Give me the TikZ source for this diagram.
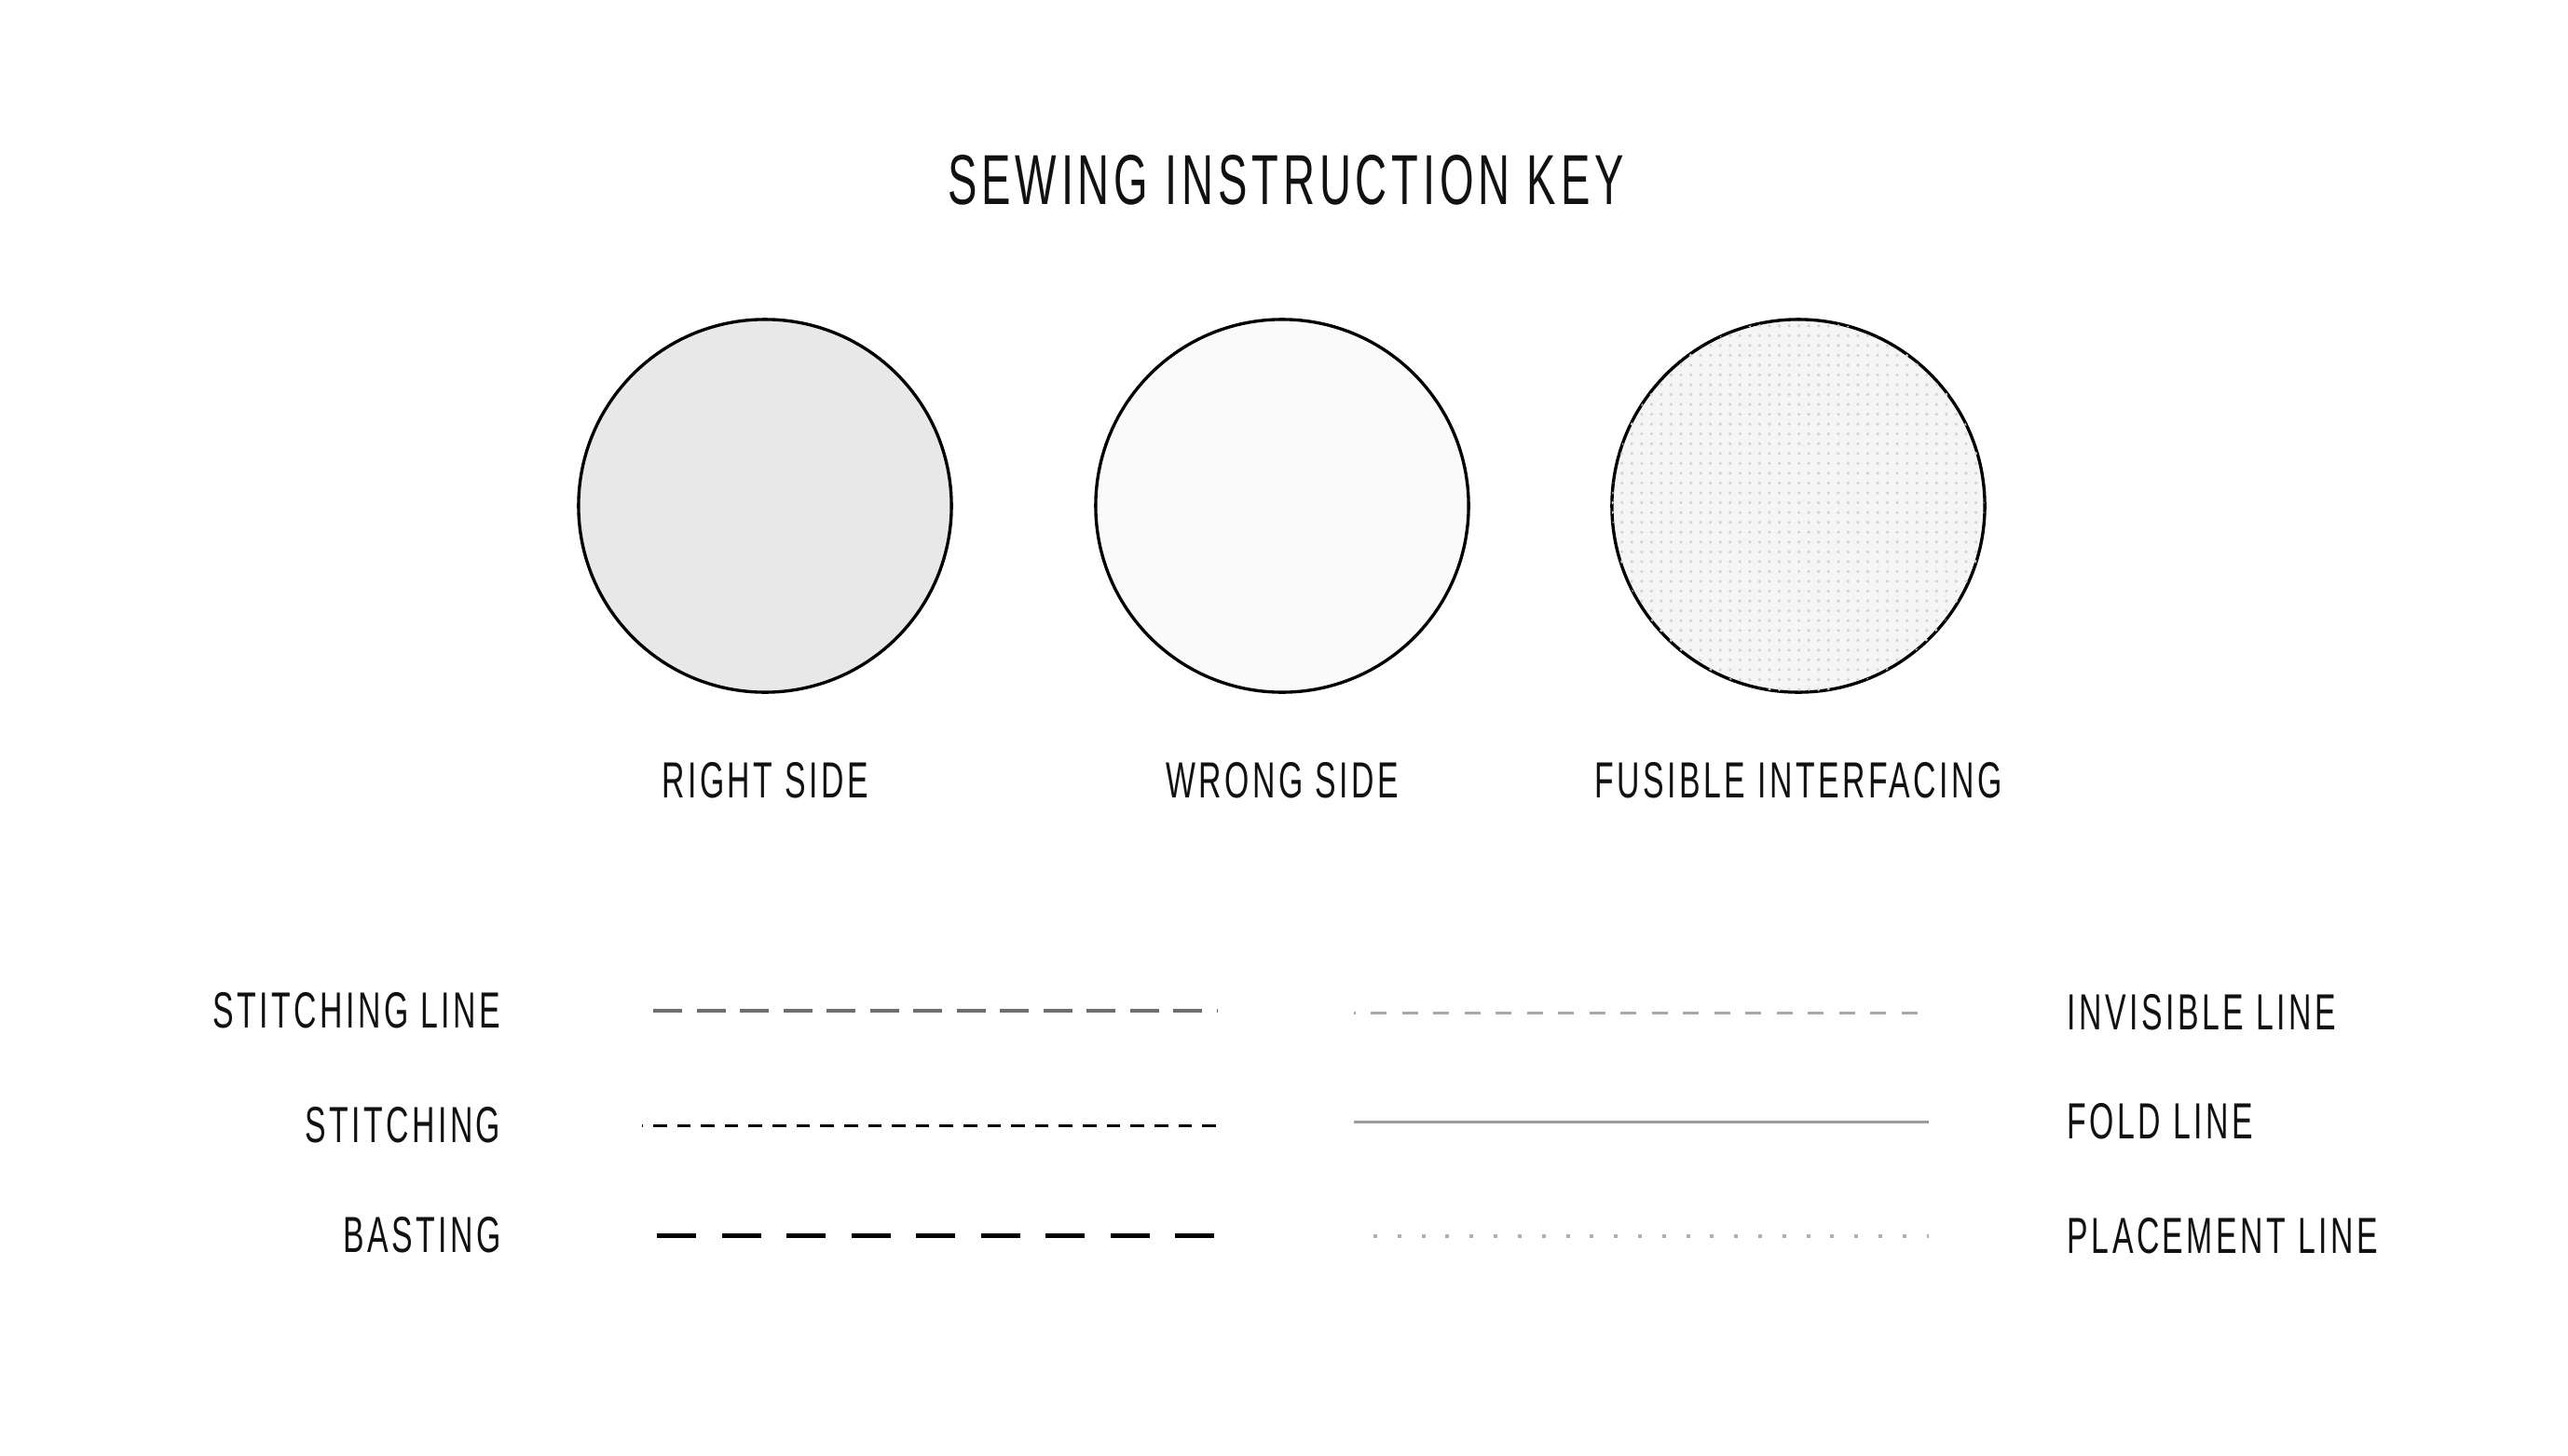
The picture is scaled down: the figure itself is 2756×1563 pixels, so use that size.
\documentclass[tikz,border=0pt]{standalone}
\usepackage{fontspec}
\setmainfont{Liberation Sans}[FakeStretch=0.62,LetterSpace=6.4]
\usepackage{tikz}
\usetikzlibrary{patterns}
\definecolor{ink}{HTML}{111111}
\definecolor{rightfill}{HTML}{E8E8E8}
\definecolor{wrongfill}{HTML}{FAFAFA}
\definecolor{fusefill}{HTML}{F5F5F5}
\definecolor{fusedot}{HTML}{D2D2D2}
\definecolor{stitchgrey}{HTML}{6E6E6E}
\definecolor{invisgrey}{HTML}{A8A8A8}
\definecolor{foldgrey}{HTML}{9C9C9C}
\definecolor{placegrey}{HTML}{B0B0B0}

\begin{document}
\begin{tikzpicture}[x=0.01cm,y=-0.01cm,
  every node/.style={color=ink,inner sep=0pt,font=\fontsize{15.5}{18}\selectfont},
  swatch/.style={circle,draw=black,line width=0.95pt,minimum size=4cm},
  rightsw/.style={fill=rightfill},
  wrongsw/.style={fill=wrongfill},
  fusesw/.style={fill=fusefill,postaction={pattern=dots,pattern color=fusedot}},
  stitchline/.style={draw=stitchgrey,line width=1.14pt,dash pattern=on 0.31cm off 0.155cm},
  stitching/.style={draw=black,line width=0.85pt,dash pattern=on 0.146cm off 0.11cm,dash phase=0.136cm},
  basting/.style={draw=black,line width=1.42pt,dash pattern=on 0.42cm off 0.275cm},
  invisline/.style={draw=invisgrey,line width=0.85pt,dash pattern=on 0.17cm off 0.165cm,dash phase=0.155cm},
  foldline/.style={draw=foldgrey,line width=0.85pt},
  placeline/.style={draw=placegrey,line width=1.14pt,dash pattern=on 0.04cm off 0.218cm}]
\fill[white] (0,0) rectangle (2756,1563);
\useasboundingbox (0,0) rectangle (2756,1563);

\node[font=\fontsize{21.6}{26}\selectfont] (title) at (1380,193) {SEWING INSTRUCTION KEY};

\foreach \n/\x/\lab/\sty in {%
  right/821/RIGHT SIDE/rightsw,
  wrong/1376/WRONG SIDE/wrongsw,
  fusible/1930/FUSIBLE INTERFACING/fusesw}{
  \node[swatch,\sty] (\n) at (\x,543) {};
  \node (\n-lab) at (\x,838) {\lab};
}

\foreach \i/\y/\xa/\lab/\sty in {%
  1/1085/701/STITCHING LINE/stitchline,
  2/1208/689/STITCHING/stitching,
  3/1326/705/BASTING/basting}{
  \node[anchor=east] (l\i) at (538,\y) {\lab};
  \coordinate (l\i-a) at (\xa,\y);
  \coordinate (l\i-b) at (1306,\y);
  \draw[\sty] (l\i-a) -- (l\i-b);
}

\foreach \i/\y/\xa/\xb/\lab/\sty in {%
  1/1087/1453/2062/INVISIBLE LINE/invisline,
  2/1204/1453/2070/FOLD LINE/foldline,
  3/1327/1474/2070/PLACEMENT LINE/placeline}{
  \node[anchor=west] (r\i) at (2218,\y) {\lab};
  \coordinate (r\i-a) at (\xa,\y);
  \coordinate (r\i-b) at (\xb,\y);
  \draw[\sty] (r\i-a) -- (r\i-b);
}
\end{tikzpicture}
\end{document}
